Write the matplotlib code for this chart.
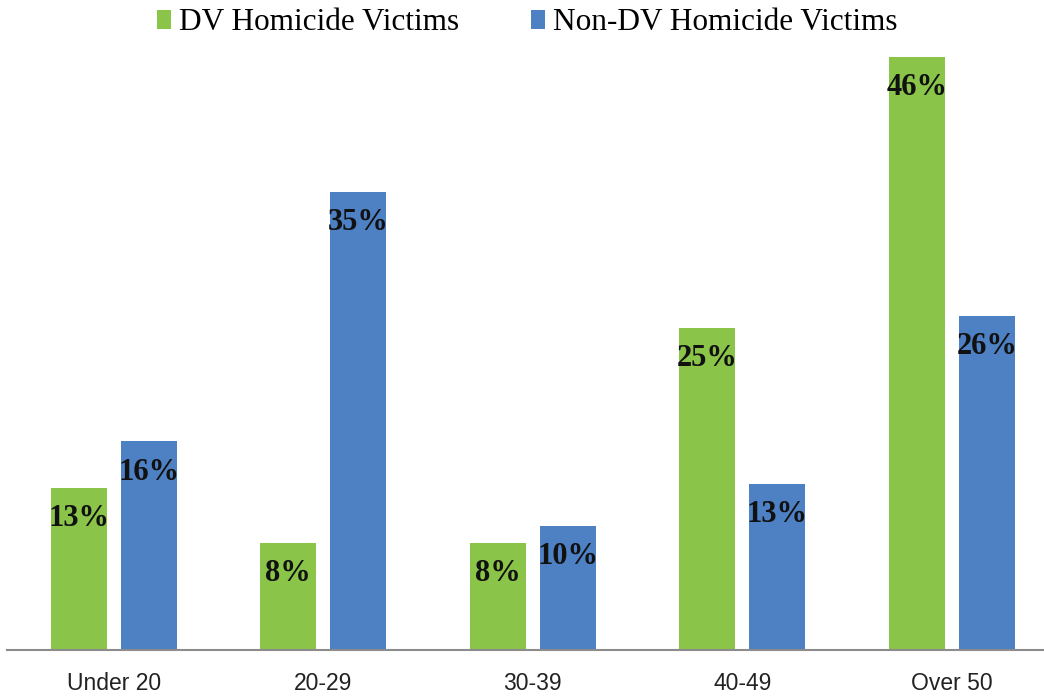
import matplotlib
matplotlib.use("Agg")
import matplotlib.pyplot as plt
from matplotlib.patches import Patch
import numpy as np

categories = ["Under 20", "20-29", "30-39", "40-49", "Over 50"]
dv_values = [12.5, 8.3, 8.3, 24.9, 45.8]
non_dv_values = [16.1, 35.4, 9.6, 12.8, 25.8]
dv_labels = ["13%", "8%", "8%", "25%", "46%"]
non_dv_labels = ["16%", "35%", "10%", "13%", "26%"]
series_names = ["DV Homicide Victims", "Non-DV Homicide Victims"]

green = "#8AC449"
blue = "#4D81C4"

W, H = 1044, 698
fig = plt.figure(figsize=(W / 100, H / 100), dpi=100)
ax = fig.add_axes([7 / W, 48 / H, 1 - 7 / W, 610 / H])

x = np.arange(len(categories))
bw = 0.267
off = 0.167
b1 = ax.bar(x - off, dv_values, width=bw, color=green)
b2 = ax.bar(x + off, non_dv_values, width=bw, color=blue)

for bars, labels in ((b1, dv_labels), (b2, non_dv_labels)):
    for rect, lab in zip(bars, labels):
        ax.annotate(lab, (rect.get_x() + rect.get_width() / 2, rect.get_height()),
                    xytext=(0, -22), textcoords="offset points",
                    ha="center", va="center", fontsize=22, fontweight="bold",
                    family=["Liberation Serif", "DejaVu Serif"], color="#111111")

ax.set_xlim(-0.51, 4.44)
ax.set_ylim(0, 47.1)
ax.set_xticks(x)
ax.set_xticklabels(categories, fontsize=16.5, family=["Liberation Sans", "DejaVu Sans"],
                   color="#222222")
ax.tick_params(axis="x", length=0, pad=16)
ax.set_yticks([])
for s in ("left", "right", "top"):
    ax.spines[s].set_visible(False)
ax.spines["bottom"].set_color("#8c8c8c")
ax.spines["bottom"].set_linewidth(1.5)

handles = [Patch(facecolor=green), Patch(facecolor=blue)]
fig.legend(handles, series_names, loc="center", bbox_to_anchor=(0.505, 1 - 23 / H),
           ncol=2, frameon=False, prop={"family": ["Liberation Serif", "DejaVu Serif"], "size": 22.5},
           handlelength=0.45, handleheight=0.55, handletextpad=0.25, columnspacing=2.3,
           borderaxespad=0, borderpad=0)

fig.savefig("out.png", dpi=100, facecolor="white")
